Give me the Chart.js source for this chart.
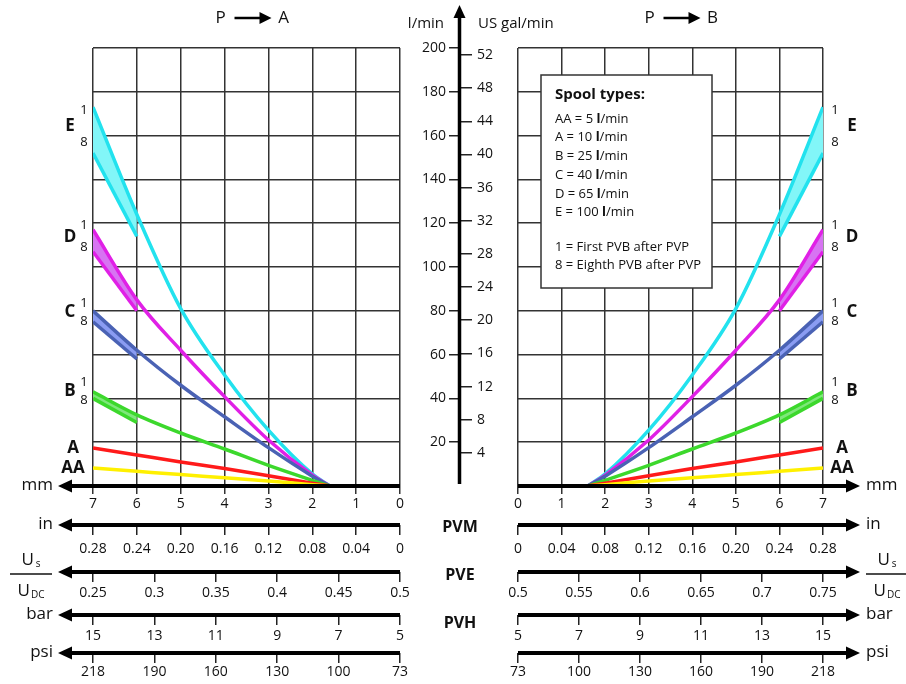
<!DOCTYPE html>
<html>
<head>
<meta charset="utf-8">
<title>Spool flow characteristics</title>
<script src="https://cdn.jsdelivr.net/npm/chart.js@4.4.1/dist/chart.umd.min.js"></script>
<style>
  html, body { margin: 0; padding: 0; background: #fff; }
  #wrap { position: relative; width: 906px; height: 684px; }
  #wrap canvas { position: absolute; left: 0; top: 0; }
</style>
</head>
<body>
<div id="wrap">
  <canvas id="leftChart" width="906" height="684"></canvas>
  <canvas id="rightChart" width="906" height="684"></canvas>
  <canvas id="flowAxis" width="906" height="684"></canvas>
</div>
<script>
const FONT = '"Open Sans", "DejaVu Sans", sans-serif';
const LITRES_PER_GAL = 3.785;

// spool stroke (mm) where the curves were read
const strokeMm = [1.6, 2, 3, 4, 5, 6, 7];
// oil flow l/min, 1 = first PVB after PVP
const flowAA = [0, 0.6, 2.3, 3.8, 5.2, 6.7, 8.2];
const flowA  = [0, 1.3, 4.7, 8, 11, 14.2, 17.4];
const flowB  = [0, 2.6, 9.4, 16.9, 24.2, 32.5, 43];
const flowC  = [0, 4.5, 17.5, 31.6, 46, 62, 80];
const flowD  = [0, 5, 21, 40.8, 62, 85, 117];
const flowE  = [0, 5.5, 25.5, 50.7, 81, 124, 173];
// 8 = eighth PVB after PVP, only at the end of the stroke
const eighthMm = [6, 7];
const eighthB = [29, 40];
const eighthC = [58, 75];
const eighthD = [80, 107];
const eighthE = [114, 152];

const spoolNames = ['AA', 'A', 'B', 'C', 'D', 'E'];
const spoolRated = [5, 10, 25, 40, 65, 100];

// tick labels
const mmTicks = ['0', '1', '2', '3', '4', '5', '6', '7'];
const inchTicks = ['0', '0.04', '0.08', '0.12', '0.16', '0.20', '0.24', '0.28'];
const ratioTicksA = ['0.25', '0.3', '0.35', '0.4', '0.45', '0.5'];
const ratioTicksB = ['0.5', '0.55', '0.6', '0.65', '0.7', '0.75'];
const barTicks = ['5', '7', '9', '11', '13', '15'];
const psiTicks = ['73', '100', '130', '160', '190', '218'];
const flowTicks = [20, 40, 60, 80, 100, 120, 140, 160, 180, 200];
const galTicks = [4, 8, 12, 16, 20, 24, 28, 32, 36, 40, 44, 48, 52];

const spools = [
  { name: 'AA', flow: flowAA, color: '#fff000' },
  { name: 'A', flow: flowA, color: '#ff1a1a' },
  { name: 'B', flow: flowB, eighth: eighthB, color: '#3cd82c', band: '#7ee87a' },
  { name: 'C', flow: flowC, eighth: eighthC, color: '#4a62b4', band: '#8a9cf2' },
  { name: 'D', flow: flowD, eighth: eighthD, color: '#e020e6', band: '#d774f2' },
  { name: 'E', flow: flowE, eighth: eighthE, color: '#22e2ee', band: '#82f6f8' }
];

function buildDatasets() {
  const ds = [];
  spools.forEach(s => {
    ds.push({
      data: strokeMm.map((x, i) => ({ x: x, y: s.flow[i] })),
      borderColor: s.color, borderWidth: 3.5, pointRadius: 0,
      cubicInterpolationMode: 'monotone', fill: false
    });
    if (s.eighth) {
      // upper edge of the band follows curve 1
      ds.push({
        data: eighthMm.map(x => ({ x: x, y: s.flow[strokeMm.indexOf(x)] })),
        borderColor: 'rgba(0,0,0,0)', borderWidth: 0, pointRadius: 0, fill: false
      });
      ds.push({
        data: eighthMm.map((x, i) => ({ x: x, y: s.eighth[i] })),
        borderColor: s.color, borderWidth: 3.5, pointRadius: 0,
        fill: '-1', backgroundColor: s.band
      });
    }
  });
  return ds;
}

function text(ctx, str, x, y, size, align, bold) {
  ctx.font = (bold ? 'bold ' : '') + size + 'px ' + FONT;
  ctx.textAlign = align || 'center';
  ctx.textBaseline = 'middle';
  ctx.fillStyle = '#111';
  ctx.fillText(str, x, y);
  return x + ctx.measureText(str).width;
}

function drawArrow(ctx, x0, y0, x1, y1, width, headLen, headHalf) {
  const ang = Math.atan2(y1 - y0, x1 - x0);
  const cos = Math.cos(ang), sin = Math.sin(ang);
  const bx = x1 - headLen * cos, by = y1 - headLen * sin;
  ctx.beginPath();
  ctx.moveTo(x0, y0);
  ctx.lineTo(bx + cos, by + sin);
  ctx.lineWidth = width;
  ctx.strokeStyle = '#000';
  ctx.stroke();
  ctx.beginPath();
  ctx.moveTo(x1, y1);
  ctx.lineTo(bx - headHalf * sin, by + headHalf * cos);
  ctx.lineTo(bx + headHalf * sin, by - headHalf * cos);
  ctx.closePath();
  ctx.fillStyle = '#000';
  ctx.fill();
}

// U_s over U_DC
function drawFraction(ctx, cx, y) {
  ctx.beginPath();
  ctx.moveTo(cx - 21, y);
  ctx.lineTo(cx + 21, y);
  ctx.lineWidth = 1.5;
  ctx.strokeStyle = '#111';
  ctx.stroke();
  ctx.font = '17px ' + FONT;
  let w = ctx.measureText('U').width;
  ctx.font = '10px ' + FONT;
  let ws = ctx.measureText('s').width;
  let x = cx - (w + ws + 2) / 2;
  text(ctx, 'U', x, y - 14, 17, 'left');
  text(ctx, 's', x + w + 2, y - 10, 10, 'left');
  ctx.font = '10px ' + FONT;
  ws = ctx.measureText('DC').width;
  x = cx - (w + ws + 1) / 2;
  text(ctx, 'U', x, y + 17, 17, 'left');
  text(ctx, 'DC', x + w + 1, y + 21, 10, 'left');
}

function drawLegend(ctx, area) {
  const bx = area.left + 23, by = area.top + 27, bw = 171, bh = 213;
  ctx.fillStyle = '#fff';
  ctx.fillRect(bx, by, bw, bh);
  ctx.lineWidth = 1.5;
  ctx.strokeStyle = '#333';
  ctx.strokeRect(bx, by, bw, bh);
  const tx = bx + 14;
  text(ctx, 'Spool types:', tx, by + 20, 15, 'left', true);
  spoolNames.forEach((n, i) => {
    const y = by + 44 + i * 18.7;
    let x = text(ctx, n + ' = ' + spoolRated[i] + ' ', tx, y, 13, 'left');
    x = text(ctx, 'l', x, y, 13, 'left', true);
    text(ctx, '/min', x, y, 13, 'left');
  });
  text(ctx, '1 = First PVB after PVP', tx, by + 172, 13, 'left');
  text(ctx, '8 = Eighth PVB after PVP', tx, by + 190, 13, 'left');
}

function panelDecor(side) {
  const isLeft = side === 'left';
  return {
    id: 'panelDecor',
    afterDraw(chart) {
      const ctx = chart.ctx, area = chart.chartArea, sc = chart.scales;
      ctx.save();
      // title
      const cx = (area.left + area.right) / 2 + (isLeft ? 4 : 9);
      text(ctx, 'P', cx - 30, 18, 17);
      drawArrow(ctx, cx - 16, 18, cx + 21, 18, 2.5, 12, 6);
      text(ctx, isLeft ? 'A' : 'B', cx + 33, 18, 17);

      // bottom axes with arrows
      const axisIds = ['x', 'xin', 'xus', 'xbar', 'xpsi'];
      const units = ['mm', 'in', null, 'bar', 'psi'];
      axisIds.forEach((id, k) => {
        const y = sc[id].top;
        if (isLeft) drawArrow(ctx, area.right, y, area.left - 35, y, 4, 14, 6.5);
        else drawArrow(ctx, area.left, y, area.right + 37, y, 4, 14, 6.5);
        if (units[k]) text(ctx, units[k], isLeft ? area.left - 40 : area.right + 43, y - 1, 17, isLeft ? 'right' : 'left');
        else drawFraction(ctx, isLeft ? area.left - 62 : area.right + 64, y + 2);
      });

      // spool letters at the end of the stroke
      const yS = sc.y;
      const lx = isLeft ? area.left - 23 : area.right + 29;
      const nx = isLeft ? area.left - 9 : area.right + 12;
      spools.forEach(s => {
        const yTop = yS.getPixelForValue(s.flow[s.flow.length - 1]);
        if (s.eighth) {
          const yBot = yS.getPixelForValue(s.eighth[s.eighth.length - 1]);
          const mid = (yTop + yBot) / 2 - 4;
          const half = Math.min(16, Math.max(9, (yBot - yTop) / 2));
          text(ctx, '1', nx, mid - half, 13);
          text(ctx, '8', nx, mid + half, 13);
          text(ctx, s.name, lx, mid, 17, 'center', true);
        } else {
          text(ctx, s.name, isLeft ? area.left - 20 : area.right + 19, yTop, 17, 'center', true);
        }
      });

      if (isLeft) {
        const px = area.right + 60;
        text(ctx, 'PVM', px, sc.xin.top + 2, 16, 'center', true);
        text(ctx, 'PVE', px, sc.xus.top + 3, 16, 'center', true);
        text(ctx, 'PVH', px, sc.xbar.top + 8, 16, 'center', true);
      } else {
        drawLegend(ctx, area);
      }
      ctx.restore();
    }
  };
}

function bottomScale(weight, min, max, reverse, values, labels, h, tickLen, pad, onArea) {
  return {
    type: 'linear', position: 'bottom', weight: weight,
    min: min, max: max, reverse: reverse,
    afterBuildTicks: s => { s.ticks = values.map(v => ({ value: v })); },
    afterFit: s => { s.height = h; },
    border: { display: false },
    grid: {
      drawOnChartArea: onArea, drawTicks: true, tickLength: tickLen,
      color: onArea ? '#333' : '#222', lineWidth: 1.5
    },
    ticks: {
      autoSkip: false, maxRotation: 0, padding: pad, color: '#111',
      font: { family: FONT, size: 14 },
      callback: (v, i) => labels[i]
    }
  };
}

function panelChart(canvasId, side) {
  const isLeft = side === 'left';
  const num = arr => arr.map(parseFloat);
  return new Chart(document.getElementById(canvasId), {
    type: 'line',
    data: { datasets: buildDatasets() },
    plugins: [panelDecor(side)],
    options: {
      responsive: false,
      animation: false,
      layout: { padding: isLeft ? { left: 93, right: 506, top: 48, bottom: 0 } : { left: 518, right: 83, top: 48, bottom: 0 } },
      plugins: { legend: { display: false }, tooltip: { enabled: false } },
      elements: { line: { borderCapStyle: 'butt' } },
      scales: {
        x: bottomScale(0, 0, 7, isLeft, num(mmTicks), mmTicks, 39, 8, 2, true),
        xin: bottomScale(1, 0, 0.28, isLeft, num(inchTicks), inchTicks, 47, 10, 6, false),
        xus: isLeft
          ? bottomScale(2, 0.25, 0.5, false, num(ratioTicksA), ratioTicksA, 43, 10, 3, false)
          : bottomScale(2, 0.5, 0.75, false, num(ratioTicksB), ratioTicksB, 43, 10, 3, false),
        xbar: bottomScale(3, 5, 15, isLeft, num(barTicks), barTicks, 38, 10, 3, false),
        // psi labels sit on the bar positions
        xpsi: bottomScale(4, 5, 15, isLeft, num(barTicks), psiTicks, 31, 10, 1, false),
        y: {
          type: 'linear', position: 'left', min: 0, max: 200,
          ticks: { display: false, stepSize: 20 },
          border: { display: false },
          grid: { drawTicks: false, color: '#333', lineWidth: 1.5 },
          afterFit: s => { s.width = 0; }
        }
      }
    }
  });
}

panelChart('leftChart', 'left');
panelChart('rightChart', 'right');

const flowAxisDecor = {
  id: 'flowAxisDecor',
  afterDraw(chart) {
    const ctx = chart.ctx, area = chart.chartArea;
    ctx.save();
    const x = area.left + 0.5;
    drawArrow(ctx, x, area.bottom - 2, x, 5, 3.5, 13, 6);
    text(ctx, 'l/min', area.left - 15, 24, 15, 'right');
    text(ctx, 'US gal/min', area.left + 19, 24, 15, 'left');
    ctx.restore();
  }
};

new Chart(document.getElementById('flowAxis'), {
  type: 'scatter',
  data: { datasets: [] },
  plugins: [flowAxisDecor],
  options: {
    responsive: false,
    animation: false,
    layout: { padding: { left: 419, right: 406, top: 48, bottom: 198 } },
    plugins: { legend: { display: false }, tooltip: { enabled: false } },
    scales: {
      x: { display: false, min: 0, max: 1 },
      y: {
        position: 'left', min: 0, max: 200,
        afterBuildTicks: s => { s.ticks = flowTicks.map(v => ({ value: v })); },
        afterFit: s => { s.width = 40; },
        border: { display: false },
        grid: { drawOnChartArea: false, tickLength: 10, color: '#222', lineWidth: 1.5 },
        ticks: { padding: 3, color: '#111', font: { family: FONT, size: 14 } }
      },
      yg: {
        position: 'right', min: 0, max: 200 / LITRES_PER_GAL,
        afterBuildTicks: s => { s.ticks = galTicks.map(v => ({ value: v })); },
        afterFit: s => { s.width = 40; },
        border: { display: false },
        grid: { drawOnChartArea: false, tickLength: 12, color: '#222', lineWidth: 1.5 },
        ticks: { padding: 5, color: '#111', font: { family: FONT, size: 14 } }
      }
    }
  }
});
</script>
</body>
</html>
